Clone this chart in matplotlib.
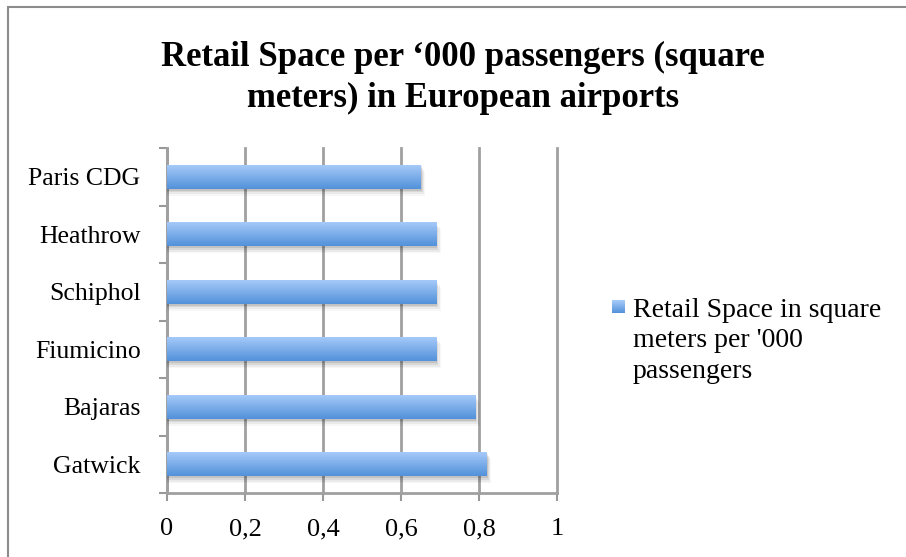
import numpy as np
import matplotlib.pyplot as plt
from matplotlib.patches import Rectangle
from matplotlib.colors import LinearSegmentedColormap

airports = ['Gatwick', 'Bajaras', 'Fiumicino', 'Schiphol', 'Heathrow', 'Paris CDG']
retail_space = [0.82, 0.79, 0.69, 0.69, 0.69, 0.65]
x_ticks = [0, 0.2, 0.4, 0.6, 0.8, 1]
x_labels = ['0', '0,2', '0,4', '0,6', '0,8', '1']

title = "Retail Space per \u2018000 passengers (square\nmeters) in European airports"
legend_text = "Retail Space in square\nmeters per '000\npassengers"

plt.rcParams['font.family'] = ['Liberation Serif', 'DejaVu Serif']

W, H = 906, 557
fig = plt.figure(figsize=(W / 100, H / 100), dpi=100)

# outer chart border (only left + top fall inside the picture)
fig.patches.append(Rectangle((8 / W, -0.1), 1.2, (H - 7) / H + 0.1,
                             transform=fig.transFigure, fill=False,
                             edgecolor='#8c8c8c', linewidth=1.5))

ax = fig.add_axes([167 / W, (H - 493) / H, 390 / W, (493 - 148) / H])

grad_cmap = LinearSegmentedColormap.from_list('bar', ['#5291da', '#a9ccfa'])
grad = np.linspace(0, 1, 64).reshape(-1, 1)

y = np.arange(len(airports))
bh = 0.42
bars = ax.barh(y, retail_space, height=bh, color='#7fb0ec', zorder=4)
for yi, v, b in zip(y, retail_space, bars):
    # soft shadow below the bar
    for k, a in enumerate([0.10, 0.07, 0.05, 0.03]):
        off = 0.03 * (k + 1)
        ax.add_patch(Rectangle((0, yi - bh / 2 - off), v + 0.003 * (k + 1),
                               bh, facecolor='#000000', alpha=a,
                               edgecolor='none', zorder=3))
    im = ax.imshow(grad, extent=[0, v, yi - bh / 2, yi + bh / 2],
                   cmap=grad_cmap, aspect='auto', origin='lower', zorder=5)
    im.set_clip_path(b)

ax.set_xlim(0, 1)
ax.set_ylim(-0.5, len(airports) - 0.5)
ax.set_xticks(x_ticks)
ax.set_xticklabels(x_labels, fontsize=19)
ax.set_yticks(y)
ax.set_yticklabels(airports, fontsize=18.5)
ax.set_yticks(np.arange(-0.5, len(airports)), minor=True)
ax.tick_params(axis='y', which='major', length=0, pad=19)
ax.tick_params(axis='y', which='minor', length=6, width=1.5, color='#999999')
ax.tick_params(axis='x', length=6, width=1.5, color='#999999', pad=12)

ax.grid(axis='x', color='#a0a0a0', linewidth=2, zorder=0)
for gl in ax.get_xgridlines():
    gl.set_clip_on(False)
ax.set_axisbelow(True)
for s in ['top', 'right']:
    ax.spines[s].set_visible(False)
for s in ['left', 'bottom']:
    ax.spines[s].set_color('#a0a0a0')
    ax.spines[s].set_linewidth(2)

fig.text(463 / W, 1 - 78 / H, title, ha='center', va='center',
         fontsize=25, fontweight='bold', linespacing=1.3)

# legend
lax = fig.add_axes([612 / W, 1 - 313 / H, 13 / W, 13 / H])
lax.imshow(grad, cmap=grad_cmap, aspect='auto', origin='lower')
lax.axis('off')
fig.text(633 / W, 1 - 298 / H, legend_text, ha='left', va='top',
         fontsize=20, linespacing=1.28)

fig.savefig('out.png', dpi=100)
